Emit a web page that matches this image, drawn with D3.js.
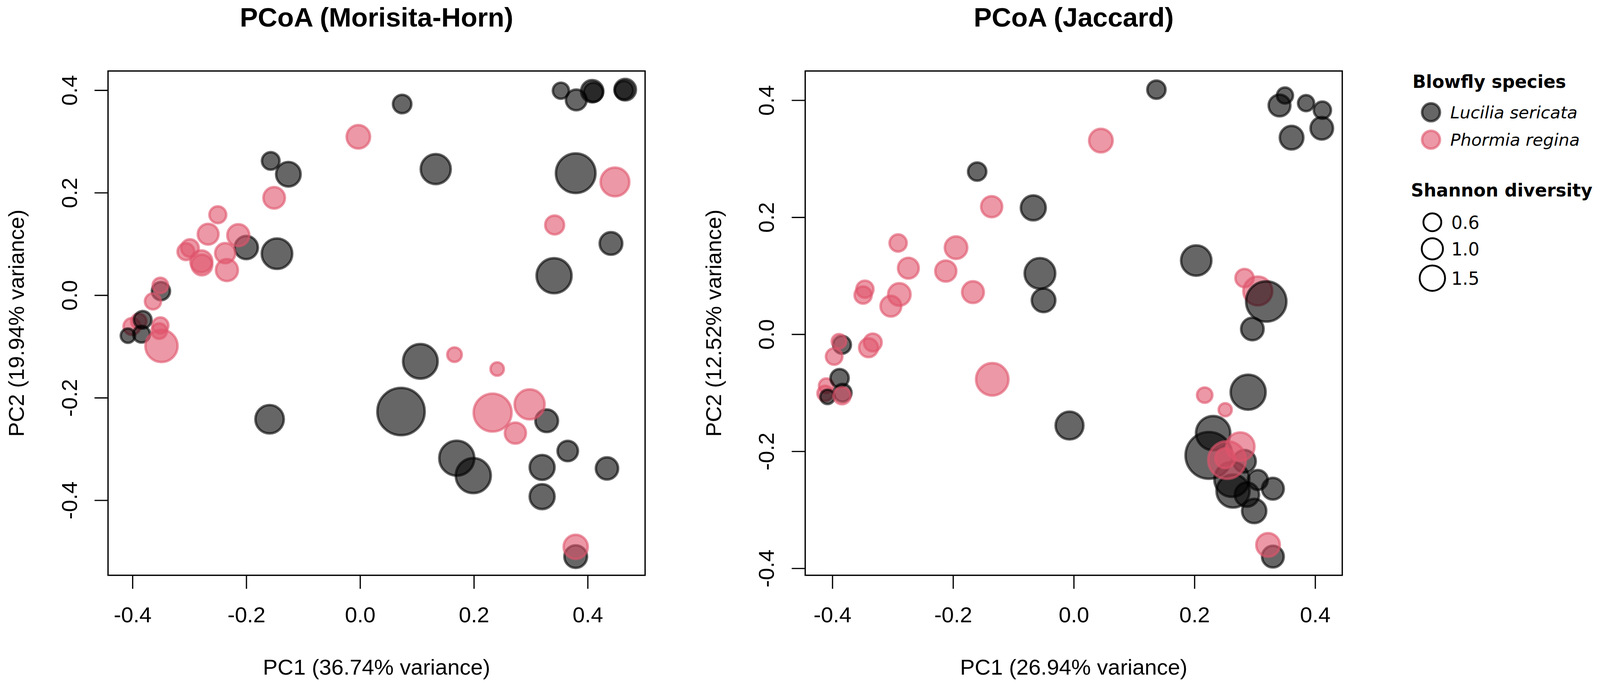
<!DOCTYPE html>
<html>
<head>
<meta charset="utf-8">
<script src="https://cdn.jsdelivr.net/npm/d3@7"></script>
<style>
	html, body { margin: 0; padding: 0; background: #fff; overflow: hidden; }
	svg { display: block; width: 100vw; height: auto; }
</style>
</head>
<body>
<svg id="container"></svg>
<script>
const speciesNames = ["Lucilia sericata", "Phormia regina"]
const speciesColors = ["#000000", "#DF536B"]
const shannonLegend = [0.6, 1.0, 1.5]
const xTicks = [-0.4, -0.2, 0, 0.2, 0.4]
const yTicks = [-0.4, -0.2, 0, 0.2, 0.4]

// Morisita-Horn ordination, listed in drawing order (0 = Lucilia, 1 = Phormia)
const mhPC1 = [
	-0.401, -0.389, -0.351, -0.353,
	0.074, 0.353, 0.380, 0.408, 0.410, 0.466, 0.464, -0.157, -0.126, 0.133, 0.379,
	0.441, -0.200, -0.146, 0.341, -0.350, -0.408, -0.382, -0.384, 0.106, -0.159,
	0.072, 0.170, 0.199, 0.328, 0.365, 0.320, 0.434, 0.320, 0.379,
	-0.003, -0.151, 0.448, 0.342, -0.250, -0.267, -0.214, -0.299, -0.306, -0.279,
	-0.278, -0.237, -0.234, -0.351, -0.364, -0.349, 0.166, 0.241, 0.233, 0.298,
	0.273, 0.379
]
const mhPC2 = [
	-0.061, -0.051, -0.059, -0.070,
	0.373, 0.399, 0.381, 0.398, 0.396, 0.401, 0.400, 0.262, 0.236, 0.246, 0.238,
	0.101, 0.093, 0.081, 0.038, 0.008, -0.079, -0.048, -0.076, -0.129, -0.242,
	-0.227, -0.318, -0.352, -0.245, -0.304, -0.336, -0.338, -0.393, -0.510,
	0.309, 0.190, 0.221, 0.137, 0.157, 0.119, 0.117, 0.092, 0.085, 0.066,
	0.059, 0.082, 0.049, 0.019, -0.012, -0.099, -0.116, -0.144, -0.229, -0.213,
	-0.269, -0.491
]
const mhShannon = [
	0.47, 0.29, 0.38, 0.31,
	0.66, 0.38, 0.94, 1.12, 0.75, 1.03, 0.66, 0.56, 1.40, 2.05, 3.20,
	1.17, 1.24, 2.11, 2.65, 0.63, 0.17, 0.56, 0.47, 2.60, 1.86,
	4.13, 2.65, 2.65, 1.17, 0.90, 1.44, 1.12, 1.44, 1.17,
	1.26, 1.03, 1.90, 0.72, 0.47, 0.94, 1.09, 0.56, 0.47, 1.09,
	0.94, 0.87, 1.09, 0.31, 0.38, 2.32, 0.19, 0.05, 3.00, 2.05,
	0.98, 1.35
]
const mhSpecies = [
	1, 1, 1, 1,
	0, 0, 0, 0, 0, 0, 0, 0, 0, 0, 0,
	0, 0, 0, 0, 0, 0, 0, 0, 0, 0,
	0, 0, 0, 0, 0, 0, 0, 0, 0,
	1, 1, 1, 1, 1, 1, 1, 1, 1, 1,
	1, 1, 1, 1, 1, 1, 1, 1, 1, 1,
	1, 1
]

// Jaccard ordination, listed in drawing order
const jcPC1 = [
	-0.410, -0.412, 0.305,
	-0.160, -0.067, -0.056, -0.050, 0.137, 0.350, 0.341, 0.385, 0.412, 0.411,
	0.361, 0.203, 0.319, 0.296, -0.384, -0.388, -0.408, -0.383, -0.007, 0.289,
	0.231, 0.224, 0.283, 0.262, 0.264, 0.305, 0.330, 0.287, 0.299, 0.330,
	-0.291, -0.274, -0.195, -0.212, -0.167, -0.289, -0.303, -0.346, -0.349, -0.136,
	0.045, 0.283, -0.389, -0.397, -0.340, -0.333, -0.384, -0.135, 0.217, 0.251,
	0.276, 0.254, 0.251, 0.322
]
const jcPC2 = [
	-0.088, -0.101, 0.074,
	0.278, 0.216, 0.104, 0.058, 0.418, 0.408, 0.391, 0.395, 0.383, 0.352,
	0.336, 0.126, 0.056, 0.009, -0.018, -0.075, -0.107, -0.100, -0.156, -0.099,
	-0.169, -0.207, -0.217, -0.248, -0.268, -0.249, -0.264, -0.274, -0.302, -0.380,
	0.156, 0.113, 0.148, 0.108, 0.072, 0.068, 0.048, 0.077, 0.067, 0.218,
	0.331, 0.096, -0.012, -0.038, -0.023, -0.014, -0.105, -0.077, -0.104, -0.129,
	-0.192, -0.215, -0.212, -0.360
]
const jcShannon = [
	0.21, 0.29, 1.92,
	0.64, 1.44, 2.13, 1.28, 0.64, 0.38, 1.06, 0.38, 0.51, 1.15,
	1.28, 2.09, 3.29, 1.15, 0.59, 0.64, 0.17, 0.59, 1.79, 2.65,
	2.56, 4.06, 1.15, 2.65, 2.42, 0.84, 1.06, 1.36, 1.36, 1.06,
	0.51, 0.94, 1.15, 0.98, 1.06, 1.15, 0.94, 0.51, 0.51, 0.98,
	1.28, 0.64, 0.19, 0.43, 0.72, 0.59, 0.51, 2.34, 0.29, 0.02,
	1.86, 2.97, 0.84, 1.28
]
const jcSpecies = [
	1, 1, 1,
	0, 0, 0, 0, 0, 0, 0, 0, 0, 0,
	0, 0, 0, 0, 0, 0, 0, 0, 0, 0,
	0, 0, 0, 0, 0, 0, 0, 0, 0, 0,
	1, 1, 1, 1, 1, 1, 1, 1, 1, 1,
	1, 1, 1, 1, 1, 1, 1, 1, 1, 1,
	1, 1, 1, 1
]

const panels = [
	{
		title: "PCoA (Morisita-Horn)",
		xLabel: "PC1 (36.74% variance)",
		yLabel: "PC2 (19.94% variance)",
		pc1: mhPC1, pc2: mhPC2, shannon: mhShannon, species: mhSpecies,
		left: 280
	},
	{
		title: "PCoA (Jaccard)",
		xLabel: "PC1 (26.94% variance)",
		yLabel: "PC2 (12.52% variance)",
		pc1: jcPC1, pc2: jcPC2, shannon: jcShannon, species: jcSpecies,
		left: 2087
	}
]

const width = 4147
const height = 1774
const boxW = 1392
const boxTop = 184
const boxBottom = 1491
const axisFont = "'Liberation Sans', Arial, Helvetica, sans-serif"
const legendFont = "'DejaVu Sans', Verdana, sans-serif"

// point radius grows linearly with Shannon diversity
const rScale = d3.scaleLinear().domain([0, 1]).range([16.7, 27.5])

// same 4% padding R uses around the data range
const paddedDomain = values => {
	const [lo, hi] = d3.extent(values)
	const pad = (hi - lo) * 0.04
	return [lo - pad, hi + pad]
}

const fmt = d => (Math.abs(d) < 1e-9 ? 0 : d).toFixed(1)

const drawPanel = (app, panel) => {
	const x = d3.scaleLinear().domain(paddedDomain(panel.pc1)).range([panel.left, panel.left + boxW])
	const y = d3.scaleLinear().domain(paddedDomain(panel.pc2)).range([boxBottom, boxTop])
	const g = app.append("g")

	const points = panel.pc1.map((v, i) => ({
		x: v, y: panel.pc2[i], s: panel.shannon[i], sp: panel.species[i]
	}))

	g.append("g")
	 .selectAll("circle")
	 .data(points)
	 .join("circle")
	 .attr("cx", d => x(d.x))
	 .attr("cy", d => y(d.y))
	 .attr("r", d => rScale(d.s))
	 .attr("fill", d => speciesColors[d.sp])
	 .attr("fill-opacity", 0.6)
	 .attr("stroke", d => speciesColors[d.sp])
	 .attr("stroke-opacity", 0.6)
	 .attr("stroke-width", 6.5)

	g.append("rect")
	 .attr("x", panel.left)
	 .attr("y", boxTop)
	 .attr("width", boxW)
	 .attr("height", boxBottom - boxTop)
	 .attr("fill", "none")
	 .attr("stroke", "#000")
	 .attr("stroke-width", 3.4)

	const xAxis = g.append("g")
	 .attr("transform", `translate(0,${boxBottom})`)
	 .call(d3.axisBottom(x).tickValues(xTicks).tickFormat(fmt).tickSize(35).tickSizeOuter(0))
	xAxis.select(".domain").remove()
	xAxis.selectAll("line").attr("stroke-width", 3.2)
	xAxis.selectAll("text")
	     .attr("y", 122)
	     .attr("dy", null)
	     .attr("font-size", 57)
	     .attr("font-family", axisFont)
	     .attr("fill", "#000")

	const yAxis = g.append("g")
	 .attr("transform", `translate(${panel.left},0)`)
	 .call(d3.axisLeft(y).tickValues(yTicks).tickFormat(fmt).tickSize(35).tickSizeOuter(0))
	yAxis.select(".domain").remove()
	yAxis.selectAll("line").attr("stroke-width", 3.2)
	yAxis.selectAll("text")
	     .attr("x", null)
	     .attr("dy", null)
	     .attr("text-anchor", "middle")
	     .attr("transform", "translate(-81,0) rotate(-90)")
	     .attr("font-size", 57)
	     .attr("font-family", axisFont)
	     .attr("fill", "#000")

	const cx = panel.left + boxW / 2
	g.append("text")
	 .attr("x", cx)
	 .attr("y", 69)
	 .attr("text-anchor", "middle")
	 .attr("font-family", axisFont)
	 .attr("font-weight", "bold")
	 .attr("font-size", 70)
	 .text(panel.title)

	g.append("text")
	 .attr("x", cx)
	 .attr("y", boxBottom + 258)
	 .attr("text-anchor", "middle")
	 .attr("font-family", axisFont)
	 .attr("font-size", 57)
	 .text(panel.xLabel)

	g.append("text")
	 .attr("transform", `translate(${panel.left - 218},${(boxTop + boxBottom) / 2}) rotate(-90)`)
	 .attr("text-anchor", "middle")
	 .attr("font-family", axisFont)
	 .attr("font-size", 57)
	 .text(panel.yLabel)
}

const drawLegend = app => {
	const g = app.append("g")

	g.append("text")
	 .attr("x", 3661)
	 .attr("y", 228)
	 .attr("font-family", legendFont)
	 .attr("font-weight", "bold")
	 .attr("font-size", 46)
	 .text("Blowfly species")

	const rows = g.selectAll("g.sp")
	 .data(speciesNames)
	 .join("g")
	 .attr("class", "sp")
	 .attr("transform", (d, i) => `translate(3709,${291 + i * 71})`)
	rows.append("circle")
	    .attr("r", rScale(0.6))
	    .attr("fill", (d, i) => speciesColors[i])
	    .attr("fill-opacity", 0.6)
	    .attr("stroke", (d, i) => speciesColors[i])
	    .attr("stroke-opacity", 0.6)
	    .attr("stroke-width", 6.5)
	rows.append("text")
	    .attr("x", 50)
	    .attr("y", 16)
	    .attr("font-family", legendFont)
	    .attr("font-style", "italic")
	    .attr("font-size", 44)
	    .text(d => d)

	g.append("text")
	 .attr("x", 3657)
	 .attr("y", 509)
	 .attr("font-family", legendFont)
	 .attr("font-weight", "bold")
	 .attr("font-size", 46)
	 .text("Shannon diversity")

	const sizeY = [576, 645, 721]
	const sizes = g.selectAll("g.sz")
	 .data(shannonLegend)
	 .join("g")
	 .attr("class", "sz")
	 .attr("transform", (d, i) => `translate(3712.5,${sizeY[i]})`)
	sizes.append("circle")
	     .attr("r", d => rScale(d))
	     .attr("fill", "none")
	     .attr("stroke", "#000")
	     .attr("stroke-width", 4.8)
	sizes.append("text")
	     .attr("x", 49)
	     .attr("y", 17)
	     .attr("font-family", legendFont)
	     .attr("font-size", 46)
	     .text(d => d.toFixed(1))
}

const setup = () => {
	const app = d3.select("#container")
	app.attr("viewBox", `0 0 ${width} ${height}`)
	   .attr("preserveAspectRatio", "xMinYMin meet")

	for (let panel of panels) {
		drawPanel(app, panel)
	}
	drawLegend(app)
}

document.addEventListener("DOMContentLoaded", setup)
</script>
</body>
</html>
